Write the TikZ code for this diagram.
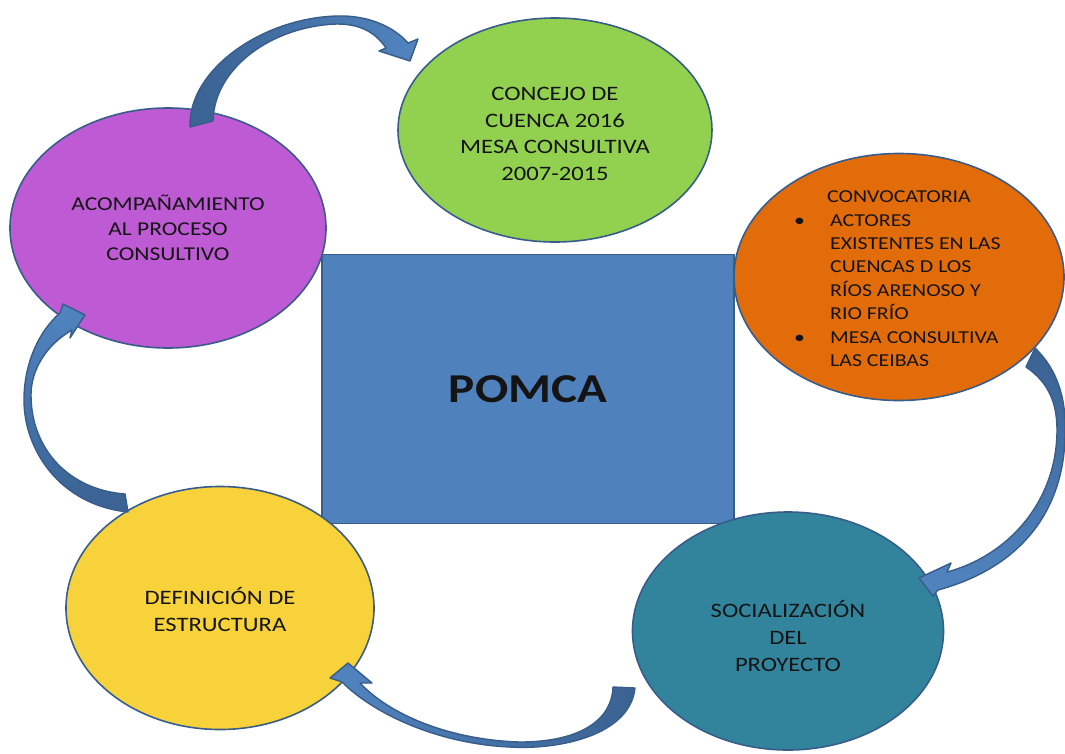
\documentclass[tikz,border=0pt]{standalone}
\usepackage{fontspec}
\setmainfont[FakeStretch=1.2]{Carlito}
\usetikzlibrary{shapes.geometric}
\definecolor{cgreen}{HTML}{92D050}
\definecolor{cpurple}{HTML}{BF5AD5}
\definecolor{corange}{HTML}{E36C0A}
\definecolor{cblue}{HTML}{4F81BD}
\definecolor{cyellow}{HTML}{F7D23B}
\definecolor{cteal}{HTML}{31849B}
\definecolor{cline}{HTML}{385D8A}
\definecolor{adark}{HTML}{3A6292}
\definecolor{alight}{HTML}{5184C0}
\definecolor{ctext}{HTML}{141414}
\tikzset{
  bubble/.style={ellipse, draw=cline, line width=1.6pt, inner sep=0pt},
  btext/.style={inner sep=0pt, align=center, text=ctext},
  blockarrow/.style={draw=cline, line width=1.4pt, line join=round},
}
\begin{document}
\begin{tikzpicture}[x=1pt,y=-1pt]
\useasboundingbox[fill=white] (0,0) rectangle (1065,753);
% central box
\node[draw=cline, line width=1.6pt, fill=cblue, minimum width=412pt, minimum height=269pt, inner sep=0pt,
      font=\fontsize{41}{48}\selectfont\bfseries, text=ctext] (pomca) at (528,389) {POMCA};
% bubbles
\node[bubble, fill=cgreen, minimum width=314pt, minimum height=224pt] (concejo) at (555,130) {};
\node[btext, font=\fontsize{20.5}{26.7}\selectfont] (concejotext) at (555,134)
      {CONCEJO DE\\CUENCA 2016\\MESA CONSULTIVA\\2007-2015};
\node[bubble, fill=cpurple, minimum width=316pt, minimum height=240pt] (acomp) at (168,228) {};
\node[btext, font=\fontsize{19.6}{25}\selectfont] (acomptext) at (168,228)
      {ACOMPAÑAMIENTO\\AL PROCESO\\CONSULTIVO};
\node[bubble, fill=corange, minimum width=330pt, minimum height=247pt] (conv) at (899,277) {};
\node[anchor=west, inner sep=0pt, text=ctext, font=\fontsize{18.2}{23.4}\selectfont] (convtext) at (794,280)
  {\begin{tabular}{@{}l@{}}
   \hspace*{33pt}CONVOCATORIA\\
   \makebox[36pt][l]{\textbullet}ACTORES\\
   \hspace*{36pt}EXISTENTES EN LAS\\
   \hspace*{36pt}CUENCAS D LOS\\
   \hspace*{36pt}RÍOS ARENOSO Y\\
   \hspace*{36pt}RIO FRÍO\\
   \makebox[36pt][l]{\textbullet}MESA CONSULTIVA\\
   \hspace*{36pt}LAS CEIBAS
   \end{tabular}};
\node[bubble, fill=cteal, minimum width=311pt, minimum height=238pt] (social) at (788,631) {};
\node[btext, font=\fontsize{20.5}{27}\selectfont] (socialtext) at (788,636)
      {SOCIALIZACIÓN\\DEL\\PROYECTO};
\node[bubble, fill=cyellow, minimum width=308pt, minimum height=243pt] (defin) at (220,608) {};
\node[btext, font=\fontsize{20.5}{27}\selectfont] (defintext) at (220,610)
      {DEFINICIÓN DE\\ESTRUCTURA};
% curved block arrows
\path[blockarrow, left color=adark, right color=alight]
  (190,127) .. controls (188,70) and (262,18) .. (337,16)
  .. controls (370,15) and (395,28) .. (408,43)
  -- (418,39) -- (410,61) -- (379,51) -- (386,48)
  .. controls (375,32) and (360,24) .. (337,24)
  .. controls (272,26) and (214,68) .. (213,121) -- cycle;
\path[blockarrow, top color=adark, bottom color=alight]
  (1035,348) .. controls (1058,370) and (1066,400) .. (1065,430)
  .. controls (1066,500) and (1030,565) .. (938,590)
  -- (933,596) -- (919,578) -- (951,563) -- (947,572)
  .. controls (1010,555) and (1057,500) .. (1057,430)
  .. controls (1057,402) and (1048,382) .. (1026,367) -- cycle;
\path[blockarrow, left color=alight, right color=adark]
  (635,688) .. controls (630,735) and (560,750) .. (510,747)
  .. controls (440,744) and (375,715) .. (342,682)
  -- (330,678) -- (348,663) -- (372,683) -- (360,683)
  .. controls (390,715) and (450,740) .. (520,742)
  .. controls (580,742) and (612,720) .. (613,687) -- cycle;
\path[blockarrow, top color=alight, bottom color=adark]
  (128,512) .. controls (60,505) and (24,450) .. (24,400)
  .. controls (24,362) and (40,330) .. (60,313)
  -- (63,304) -- (85,315) -- (70,338) -- (72,330)
  .. controls (46,345) and (31,370) .. (31,395)
  .. controls (31,450) and (70,490) .. (125,494) -- cycle;
\end{tikzpicture}
\end{document}
